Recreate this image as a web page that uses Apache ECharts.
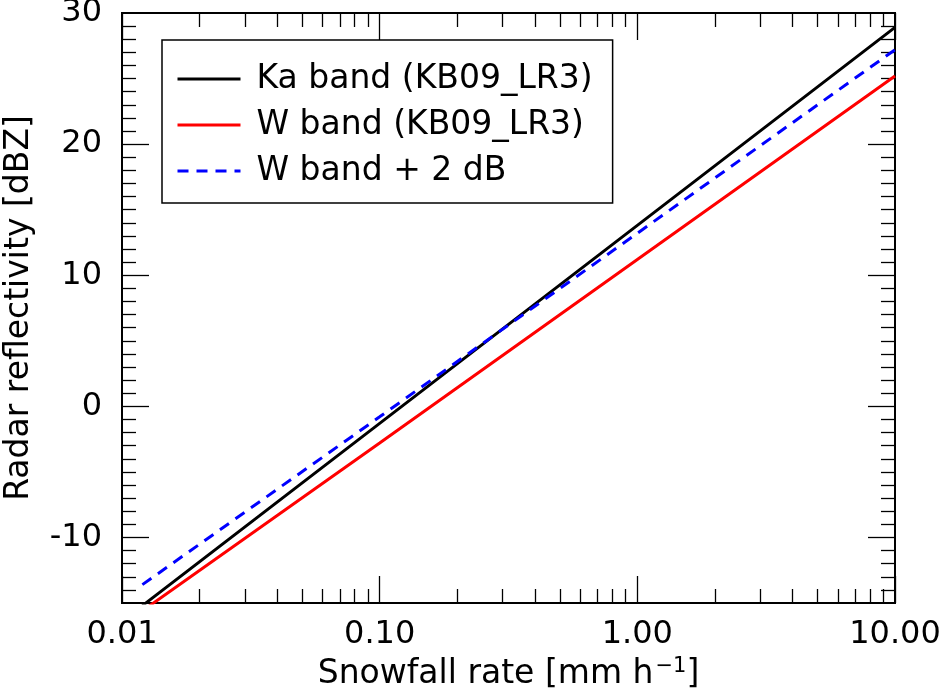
<!DOCTYPE html>
<html><head><meta charset="utf-8">
<script src="https://cdn.jsdelivr.net/npm/echarts@6/dist/echarts.min.js"></script>
<style>html,body{margin:0;padding:0;background:#fff}#c{width:943px;height:689px}</style>
</head><body><div id="c"></div>
<script>
// ---- data ----
const snowfallRate = [0.012, 0.1, 1, 10];
const kaBand = [-15.2, -1.3, 13.8, 28.9];
const wBand = [-15.6, -2.8, 11.2, 25.2];
const wBandPlus2 = [-13.6, -0.8, 13.2, 27.2];
const seriesNames = ['Ka band (KB09_LR3)', 'W band (KB09_LR3)', 'W band + 2 dB'];
const seriesColors = ['#000000', '#ff0000', '#0000ff'];

// ---- tick positions ----
const xMajorTicks = [0.01, 0.1, 1, 10];
const xMinorTicks = [0.02, 0.03, 0.04, 0.05, 0.06, 0.07, 0.08, 0.09,
                     0.2, 0.3, 0.4, 0.5, 0.6, 0.7, 0.8, 0.9,
                     2, 3, 4, 5, 6, 7, 8, 9];
const yMajorTicks = [-10, 0, 10, 20];
const yTickLabels = [-10, 0, 10, 20, 30];
const yMinorTicks = [-14, -13, -12, -11, -9, -8, -7, -6, -5, -4, -3, -2, -1,
                     1, 2, 3, 4, 5, 6, 7, 8, 9, 11, 12, 13, 14, 15, 16, 17, 18, 19,
                     21, 22, 23, 24, 25, 26, 27, 28, 29];

const FONT = 'DejaVu Sans';
const FS = 32;
const FS_T = 33;

function xAxisDef(pos, ticks, len, withLabels) {
  const ax = {
    type: 'log', logBase: 10, min: 0.01, max: 10, position: pos,
    axisLine: { show: true, onZero: false, lineStyle: { color: '#000', width: 2 } },
    axisTick: { show: true, inside: true, length: len, customValues: ticks,
                lineStyle: { color: '#000', width: 1.3 } },
    axisLabel: { show: false },
    splitLine: { show: false },
    minorTick: { show: false }
  };
  if (withLabels) {
    ax.axisLabel = { show: true, customValues: xMajorTicks, margin: 16,
      fontFamily: FONT, fontSize: FS, color: '#000',
      formatter: v => Number(v).toFixed(2) };
    ax.name = '{a|Snowfall rate [mm h}{s|\u22121}{a|]}';
    ax.nameLocation = 'middle';
    ax.nameGap = 50;
    ax.nameTextStyle = { fontFamily: FONT, color: '#000',
      rich: { a: { fontFamily: FONT, fontSize: FS_T, color: '#000', lineHeight: 38 },
              s: { fontFamily: FONT, fontSize: 21, color: '#000', lineHeight: 38, verticalAlign: 'top', padding: [0, 0, 0, 2] } } };
  }
  return ax;
}
function yAxisDef(pos, ticks, len, withLabels) {
  const ax = {
    type: 'value', min: -15, max: 30, interval: 5, position: pos,
    axisLine: { show: true, onZero: false, lineStyle: { color: '#000', width: 2 } },
    axisTick: { show: true, inside: true, length: len, customValues: ticks,
                lineStyle: { color: '#000', width: 1.3 } },
    axisLabel: { show: false },
    splitLine: { show: false },
    minorTick: { show: false }
  };
  if (withLabels) {
    ax.axisLabel = { show: true, customValues: yTickLabels, margin: 20,
      fontFamily: FONT, fontSize: FS, color: '#000', formatter: v => String(v) };
    ax.name = 'Radar reflectivity [dBZ]';
    ax.nameLocation = 'middle';
    ax.nameGap = 86;
    ax.nameTextStyle = { fontFamily: FONT, fontSize: FS_T, color: '#000' };
  }
  return ax;
}

function pairs(ys) { return snowfallRate.map((s, i) => [s, ys[i]]); }
const seriesValues = [kaBand, wBand, wBandPlus2];

const chart = echarts.init(document.getElementById('c'), null, { renderer: 'canvas' });
chart.setOption({
  animation: false,
  backgroundColor: '#fff',
  grid: { left: 122, right: 48, top: 13, bottom: 86, containLabel: false, outerBoundsMode: 'none' },
  xAxis: [
    xAxisDef('bottom', xMajorTicks, 27, true),
    xAxisDef('top', xMajorTicks, 27, false),
    xAxisDef('bottom', xMinorTicks, 14, false),
    xAxisDef('top', xMinorTicks, 14, false)
  ],
  yAxis: [
    yAxisDef('left', yMajorTicks, 27, true),
    yAxisDef('right', yMajorTicks, 27, false),
    yAxisDef('left', yMinorTicks, 14, false),
    yAxisDef('right', yMinorTicks, 14, false)
  ],
  legend: {
    orient: 'vertical', left: 162, top: 40,
    padding: [21, 20, 14, 14], itemGap: 10, itemWidth: 63, itemHeight: 14,
    backgroundColor: '#fff', borderColor: '#000', borderWidth: 1.5, borderRadius: 0,
    selectedMode: false,
    itemStyle: { opacity: 0 },
    lineStyle: { width: 3 },
    textStyle: { fontFamily: FONT, fontSize: FS_T, color: '#000', lineHeight: 36, padding: [0, 0, 0, 11] },
    data: seriesNames
  },
  series: seriesNames.map((name, i) => ({
    name: name, type: 'line', xAxisIndex: 0, yAxisIndex: 0,
    data: pairs(seriesValues[i]),
    symbol: 'none', showSymbol: false, clip: true,
    lineStyle: { color: seriesColors[i], width: 3, type: i === 2 ? [11, 8] : 'solid' },
    itemStyle: { color: seriesColors[i] }
  }))
});
</script>
</body></html>
